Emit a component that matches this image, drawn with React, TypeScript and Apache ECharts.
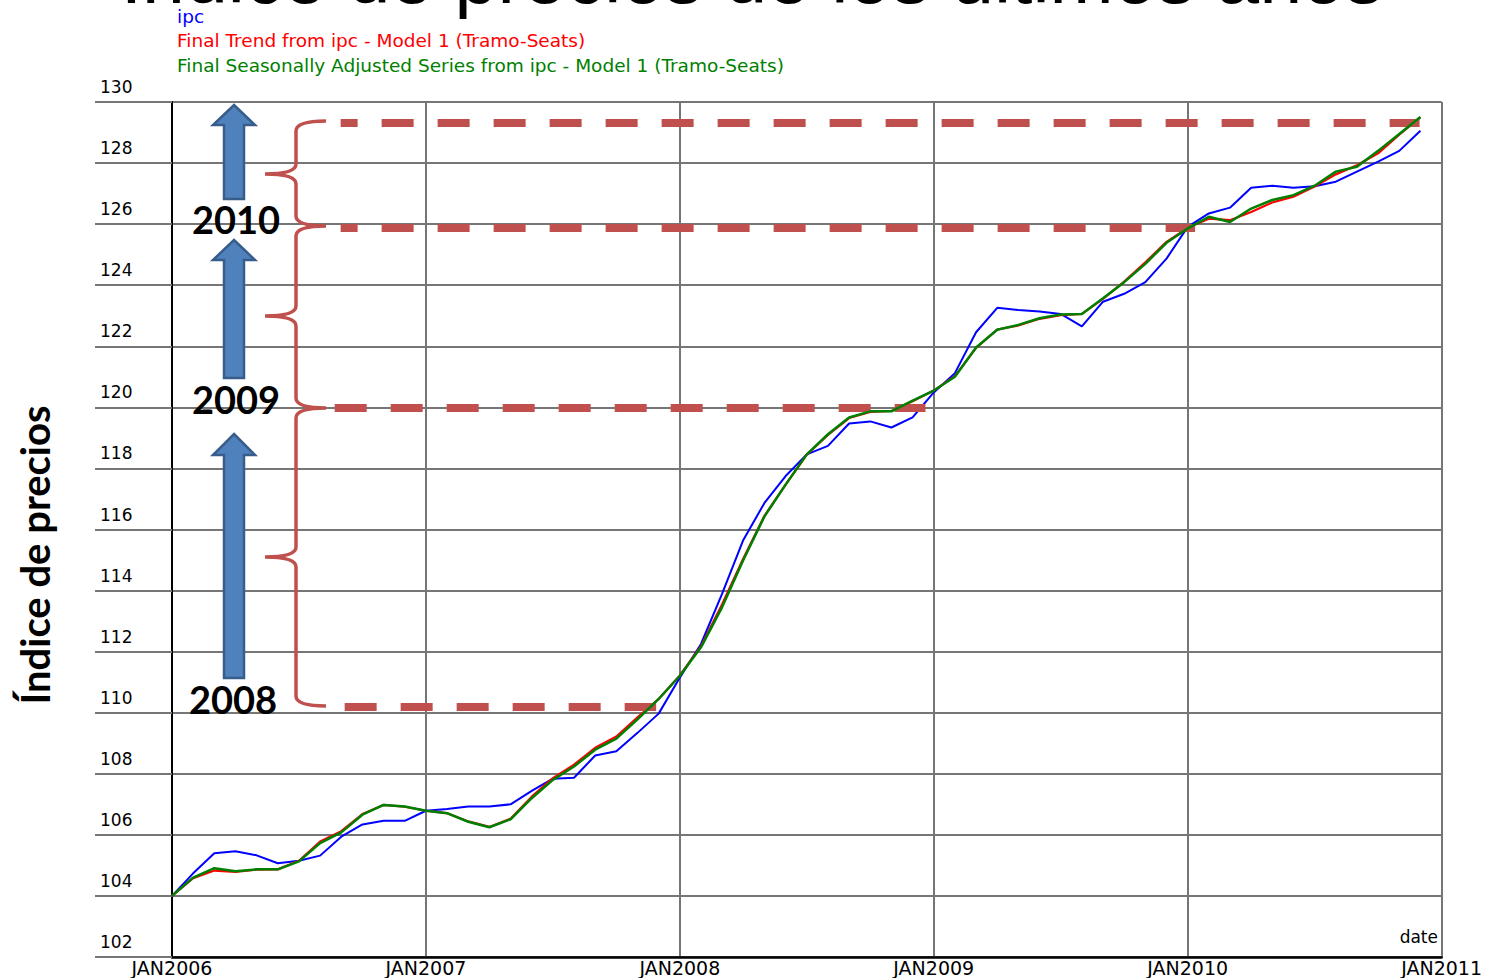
import React, { useEffect, useRef } from "react";
import * as echarts from "echarts";

// ---- data (monthly, JAN2006 .. DEC2010) ----
const ipc = [
  104.0, 104.74, 105.4, 105.46, 105.33, 105.07, 105.15, 105.32, 105.94, 106.34, 106.46, 106.46,
  106.79, 106.85, 106.93, 106.93, 107.0, 107.44, 107.84, 107.87, 108.6, 108.74, 109.34, 109.97,
  111.15, 112.25, 113.9, 115.66, 116.87, 117.75, 118.46, 118.74, 119.47, 119.54, 119.34, 119.67,
  120.49, 121.12, 122.46, 123.26, 123.19, 123.14, 123.06, 122.65, 123.46, 123.72, 124.1, 124.87,
  125.91, 126.35, 126.54, 127.19, 127.26, 127.19, 127.24, 127.39, 127.72, 128.05, 128.4, 129.06,
];
const trend = [
  104.0, 104.58, 104.83, 104.79, 104.86, 104.87, 105.15, 105.78, 106.12, 106.68, 106.98, 106.92,
  106.79, 106.71, 106.44, 106.26, 106.53, 107.25, 107.86, 108.3, 108.85, 109.22, 109.85, 110.45,
  111.22, 112.18, 113.55, 115.05, 116.45, 117.47, 118.45, 119.1, 119.65, 119.85, 119.88, 120.2,
  120.55, 121.02, 121.95, 122.55, 122.68, 122.9, 123.02, 123.06, 123.55, 124.12, 124.75, 125.42,
  125.88, 126.18, 126.13, 126.4, 126.71, 126.9, 127.23, 127.63, 127.93, 128.32, 128.93, 129.5,
];
const seasAdj = [
  104.0, 104.6, 104.91, 104.81, 104.87, 104.87, 105.13, 105.73, 106.08, 106.66, 106.98, 106.93,
  106.79, 106.71, 106.43, 106.25, 106.51, 107.2, 107.8, 108.24, 108.79, 109.15, 109.78, 110.45,
  111.21, 112.14, 113.46, 115.0, 116.43, 117.47, 118.46, 119.12, 119.67, 119.87, 119.87, 120.22,
  120.55, 121.0, 121.96, 122.54, 122.7, 122.92, 123.04, 123.06, 123.57, 124.1, 124.7, 125.39,
  125.86, 126.24, 126.07, 126.51, 126.79, 126.95, 127.26, 127.72, 127.88, 128.4, 128.95, 129.51,
];
const seriesNames = [
  "ipc",
  "Final Trend from ipc - Model 1 (Tramo-Seats)",
  "Final Seasonally Adjusted Series from ipc - Model 1 (Tramo-Seats)",
];
const xTickLabels = ["JAN2006", "JAN2007", "JAN2008", "JAN2009", "JAN2010", "JAN2011"];
const yMin = 102;
const yMax = 130;
const yStep = 2;

// reference levels drawn as dashed lines (value, start month, end month)
const refLevels = [129.31, 125.89, 120.0, 110.18];
const refStart = [7.97, 7.97, 7.69, 8.16];
const refEnd = [58.96, 48.35, 35.61, 22.88];
const refDashOffset = [15, 15, 0, 0];

const yearLabels = ["2010", "2009", "2008"];
const axisTitle = "Índice de precios";
const topTitle = "Índice de precios de los últimos años";

// ---- decoration geometry (pixels) ----
const BRACE_D =
  "M326 121 Q296 121 296 131 L296 164 Q296 174 265 174 Q296 174 296 184 L296 216 Q296 226 326 226 " +
  "M326 226 Q296 226 296 236 L296 306 Q296 316 265 316 Q296 316 296 326 L296 398 Q296 408 326 408 " +
  "M326 408 Q296 408 296 418 L296 547 Q296 557 265 557 Q296 557 296 567 L296 696 Q296 706 326 706";

function arrowPoints(tip: number, base: number, bottom: number) {
  return [
    [234, tip],
    [255, base],
    [244, base],
    [244, bottom],
    [224, bottom],
    [224, base],
    [213, base],
  ];
}
const arrows = [arrowPoints(105, 125, 199), arrowPoints(240, 260, 378), arrowPoints(434, 455, 678)];
const yearPos = [
  [236, 219],
  [236, 399],
  [233, 699],
];

let braceRegistered = false;

export default function App() {
  const ref = useRef<HTMLDivElement>(null);

  useEffect(() => {
    document.body.style.margin = "0";
    document.body.style.overflow = "hidden";
    if (!braceRegistered) {
      echarts.graphic.registerShape("brace", echarts.graphic.extendPath(BRACE_D, {}));
      braceRegistered = true;
    }
    const chart = echarts.init(ref.current!, null, { renderer: "svg" });
    const gridLine = { color: "#767676", width: 2 };

    const colors = ["#0000FF", "#FF0000", "#008000"];
    const values = [ipc, trend, seasAdj];
    const widths = [2, 2.2, 2.5];

    const series: any[] = values.map((arr, k) => ({
      name: seriesNames[k],
      type: "line",
      data: arr.map((v, i) => [i, v]),
      symbol: "none",
      showSymbol: false,
      lineStyle: { color: colors[k], width: widths[k] },
      itemStyle: { color: colors[k] },
      z: 3 + k,
      silent: true,
    }));
    series[0].markLine = {
      silent: true,
      symbol: ["none", "none"],
      label: { show: false },
      lineStyle: { color: "#C0504D", width: 8, type: [32, 24], cap: "butt", opacity: 1 },
      emphasis: { disabled: true },
      data: refLevels.map((lv, i) => [
        { coord: [refStart[i], lv], lineStyle: { dashOffset: refDashOffset[i] } },
        { coord: [refEnd[i], lv] },
      ]),
    };

    const graphic: any[] = [];
    graphic.push({
      type: "text",
      x: 752,
      y: -24,
      z: 100,
      style: {
        text: topTitle,
        fill: "#000",
        font: '77px "Liberation Sans"',
        align: "center",
        verticalAlign: "middle",
      },
    });
    seriesNames.forEach((n, k) => {
      graphic.push({
        type: "text",
        x: 177,
        y: [16, 40, 65][k],
        z: 100,
        style: {
          text: n,
          fill: colors[k],
          font: '18.5px "DejaVu Sans"',
          align: "left",
          verticalAlign: "middle",
        },
      });
    });
    graphic.push({
      type: "brace",
      x: 0,
      y: 0,
      z: 100,
      style: { fill: "none", stroke: "#C0504D", lineWidth: 3.5 },
    });
    arrows.forEach((pts) => {
      graphic.push({
        type: "polygon",
        z: 100,
        shape: { points: pts },
        style: { fill: "#4F81BD", stroke: "#385D8A", lineWidth: 2.5 },
      });
    });
    yearLabels.forEach((t, k) => {
      graphic.push({
        type: "text",
        x: yearPos[k][0],
        y: yearPos[k][1],
        z: 101,
        style: {
          text: t,
          fill: "#000",
          font: 'bold 38px "Lato"',
          align: "center",
          verticalAlign: "middle",
        },
      });
    });
    graphic.push({
      type: "text",
      x: 35,
      y: 555,
      rotation: Math.PI / 2,
      z: 100,
      style: {
        text: axisTitle,
        fill: "#000",
        font: 'bold 40px "Lato"',
        align: "center",
        verticalAlign: "middle",
      },
    });
    graphic.push({
      type: "text",
      x: 1438,
      y: 937,
      z: 100,
      style: {
        text: "date",
        fill: "#000",
        font: '17px "DejaVu Sans"',
        align: "right",
        verticalAlign: "middle",
      },
    });

    chart.setOption({
      animation: false,
      backgroundColor: "#fff",
      grid: { left: 172, top: 102, width: 1272, height: 855 },
      xAxis: {
        type: "value",
        min: 0,
        max: 60,
        interval: 12,
        axisLine: { show: true, onZero: false, lineStyle: { color: "#000", width: 2.5 } },
        axisTick: { show: false },
        splitLine: { show: true, lineStyle: gridLine },
        axisLabel: {
          fontFamily: "DejaVu Sans",
          fontSize: 19,
          color: "#000",
          margin: 11,
          verticalAlign: "middle",
          formatter: (v: number) => xTickLabels[Math.round(v / 12)] ?? "",
        },
      },
      yAxis: {
        type: "value",
        min: yMin,
        max: yMax,
        interval: yStep,
        axisLine: { show: true, onZero: false, lineStyle: { color: "#000", width: 2 } },
        axisTick: { show: true, length: 77, lineStyle: gridLine },
        splitLine: { show: true, lineStyle: gridLine },
        axisLabel: {
          fontFamily: "DejaVu Sans",
          fontSize: 17,
          color: "#000",
          align: "left",
          margin: 72,
          verticalAlign: "bottom",
          lineHeight: 30,
        },
      },
      legend: { show: false },
      tooltip: { show: false },
      series,
      graphic,
    });
    return () => chart.dispose();
  }, []);

  return <div ref={ref} style={{ width: 1485, height: 978 }} />;
}
